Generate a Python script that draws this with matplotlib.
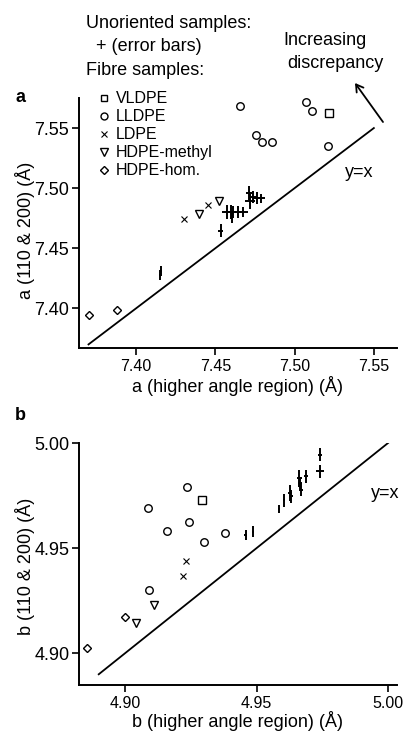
import matplotlib
matplotlib.use("Agg")
import matplotlib.pyplot as plt

plt.rcParams['font.family'] = ['Liberation Sans', 'DejaVu Sans']

W, H = 404, 732

# ---------------- Panel a data ----------------
a_unor_x = [7.4152, 7.4160, 7.4534, 7.4572, 7.4597, 7.4613, 7.4645, 7.4677, 7.4602,
            7.4714, 7.4719, 7.4735, 7.4765, 7.4785]
a_unor_y = [7.4275, 7.4310, 7.4647, 7.4800, 7.4800, 7.4800, 7.4800, 7.4800, 7.4752,
            7.4958, 7.4890, 7.4925, 7.4920, 7.4915]
a_unor_xerr = [0.0005, 0.0005, 0.0015, 0.003, 0.002, 0.002, 0.002, 0.003, 0.0005,
               0.002, 0.003, 0.002, 0.003, 0.003]
a_unor_yerr = [0.004, 0.004, 0.0055, 0.006, 0.006, 0.005, 0.005, 0.004, 0.004,
               0.006, 0.006, 0.005, 0.005, 0.004]

a_vldpe_x = [7.5215]
a_vldpe_y = [7.5625]
a_lldpe_x = [7.4656, 7.5072, 7.5112, 7.4755, 7.4793, 7.4859, 7.5209]
a_lldpe_y = [7.5680, 7.5713, 7.5642, 7.5444, 7.5383, 7.5388, 7.5347]
a_ldpe_x = [7.4303, 7.4454]
a_ldpe_y = [7.4742, 7.4861]
a_hdpem_x = [7.4399, 7.4523]
a_hdpem_y = [7.4786, 7.4894]
a_hdpeh_x = [7.3702, 7.3880]
a_hdpeh_y = [7.3944, 7.3988]
a_line = [7.37, 7.55]
a_ticks = [7.40, 7.45, 7.50, 7.55]
a_ticklabels = ["7.40", "7.45", "7.50", "7.55"]

# ---------------- Panel b data ----------------
b_unor_x = [4.9459, 4.9486, 4.9586, 4.9605, 4.9628, 4.9632, 4.9663, 4.9666, 4.9668,
            4.9687, 4.9741, 4.9741]
b_unor_y = [4.9563, 4.9579, 4.9686, 4.9727, 4.9762, 4.9746, 4.9833, 4.9810, 4.9778,
            4.9841, 4.9944, 4.9865]
b_unor_xerr = [0.0005, 0.0005, 0.0005, 0.0005, 0.0008, 0.0008, 0.0008, 0.0008, 0.0008,
               0.0008, 0.0008, 0.0016]
b_unor_yerr = [0.0025, 0.0025, 0.002, 0.003, 0.004, 0.003, 0.004, 0.003, 0.003,
               0.003, 0.003, 0.003]

b_vldpe_x = [4.9294]
b_vldpe_y = [4.9730]
b_lldpe_x = [4.9235, 4.9089, 4.9159, 4.9244, 4.9302, 4.9379, 4.9091]
b_lldpe_y = [4.9790, 4.9689, 4.9581, 4.9622, 4.9530, 4.9570, 4.9301]
b_ldpe_x = [4.9232, 4.9222]
b_ldpe_y = [4.9440, 4.9368]
b_hdpem_x = [4.9111, 4.9042]
b_hdpem_y = [4.9230, 4.9143]
b_hdpeh_x = [4.9000, 4.8857]
b_hdpeh_y = [4.9173, 4.9027]
b_line = [4.89, 5.00]
b_ticks = [4.90, 4.95, 5.00]
b_ticklabels = ["4.90", "4.95", "5.00"]

legend_labels = ["VLDPE", "LLDPE", "LDPE", "HDPE-methyl", "HDPE-hom."]
legend_markers = ["s", "o", "x", "v", "D"]

FS = 13
XTFS = 11.5
fig = plt.figure(figsize=(W / 100, H / 100), dpi=100)


def fx(px):
    return px / W


def fy(py):
    return 1 - py / H


def style_ax(ax):
    for s in ["top", "right"]:
        ax.spines[s].set_visible(False)
    for s in ["left", "bottom"]:
        ax.spines[s].set_linewidth(1.4)
    ax.tick_params(direction="out", length=5, width=1.2, labelsize=FS, pad=2)
    ax.tick_params(axis="x", labelsize=XTFS, pad=3)


mk = dict(linestyle="none", markerfacecolor="none", markeredgecolor="black",
          markeredgewidth=1.0, clip_on=False)


def draw_panel(ax, ux, uy, uxe, uye, groups, line):
    ax.plot(line, line, color="black", lw=1.3)
    ax.errorbar(ux, uy, xerr=uxe, yerr=uye, fmt="none", ecolor="black",
                elinewidth=1.4, capsize=0)
    for (gx, gy), m in zip(groups, legend_markers):
        size = {"s": 5.2, "o": 5.4, "x": 4.6, "v": 5.6, "D": 4.2}[m]
        ew = 0.8 if m == "x" else 1.0
        kw = dict(mk)
        kw["markeredgewidth"] = ew
        ax.plot(gx, gy, marker=m, markersize=size, **kw)


# Panel a
axa = fig.add_axes([fx(79), fy(348), fx(397) - fx(79), fy(98) - fy(348)])
style_ax(axa)
draw_panel(axa, a_unor_x, a_unor_y, a_unor_xerr, a_unor_yerr,
           [(a_vldpe_x, a_vldpe_y), (a_lldpe_x, a_lldpe_y), (a_ldpe_x, a_ldpe_y),
            (a_hdpem_x, a_hdpem_y), (a_hdpeh_x, a_hdpeh_y)], a_line)
axa.set_xlim(7.364, 7.5646)
axa.set_ylim(7.367, 7.575)
axa.set_xticks(a_ticks)
axa.set_xticklabels(a_ticklabels)
axa.set_yticks(a_ticks)
axa.set_yticklabels(a_ticklabels)

# Panel b
axb = fig.add_axes([fx(79), fy(685), fx(397) - fx(79), fy(443) - fy(685)])
style_ax(axb)
draw_panel(axb, b_unor_x, b_unor_y, b_unor_xerr, b_unor_yerr,
           [(b_vldpe_x, b_vldpe_y), (b_lldpe_x, b_lldpe_y), (b_ldpe_x, b_ldpe_y),
            (b_hdpem_x, b_hdpem_y), (b_hdpeh_x, b_hdpeh_y)], b_line)
axb.set_xlim(4.8825, 5.0034)
axb.set_ylim(4.8849, 5.00)
axb.set_xticks(b_ticks)
axb.set_xticklabels(b_ticklabels)
axb.set_yticks(b_ticks)
axb.set_yticklabels(b_ticklabels)

# Axis labels
fig.text(fx(238), fy(392), "a (higher angle region) (Å)", fontsize=FS, ha="center", va="baseline")
fig.text(fx(238), fy(727), "b (higher angle region) (Å)", fontsize=FS, ha="center", va="baseline")
fig.text(fx(25), fy(230), "a (110 & 200) (Å)", fontsize=FS, ha="center", va="center", rotation=90)
fig.text(fx(25), fy(566), "b (110 & 200) (Å)", fontsize=FS, ha="center", va="center", rotation=90)

# Panel letters
fig.text(fx(15), fy(102), "a", fontsize=FS, fontweight="bold", ha="left", va="baseline")
fig.text(fx(15), fy(420), "b", fontsize=FS, fontweight="bold", ha="left", va="baseline")

# y=x labels
fig.text(fx(345), fy(177), "y=x", fontsize=FS, ha="left", va="baseline")
fig.text(fx(371), fy(498), "y=x", fontsize=FS, ha="left", va="baseline")

# Legend / header texts
fig.text(fx(86), fy(28), "Unoriented samples:", fontsize=FS, ha="left", va="baseline")
fig.text(fx(96), fy(51), "+ (error bars)", fontsize=FS, ha="left", va="baseline")
fig.text(fx(86), fy(75), "Fibre samples:", fontsize=FS, ha="left", va="baseline")
fig.text(fx(283), fy(45), "Increasing", fontsize=FS, ha="left", va="baseline")
fig.text(fx(287), fy(67.7), "discrepancy", fontsize=FS, ha="left", va="baseline")

for i, (lab, m) in enumerate(zip(legend_labels, legend_markers)):
    base = 102.7 + 18 * i
    fig.text(fx(116), fy(base), lab, fontsize=11.5, ha="left", va="baseline")
    size = {"s": 5.0, "o": 5.0, "x": 4.4, "v": 5.2, "D": 4.0}[m]
    ew = 0.8 if m == "x" else 1.0
    fig.add_artist(plt.Line2D([fx(103.5)], [fy(base - 5)], marker=m, markersize=size,
                              transform=fig.transFigure, linestyle="none",
                              markerfacecolor="none", markeredgecolor="black",
                              markeredgewidth=ew))

# Arrow
axa.annotate("", xy=(fx(355), fy(83)), xytext=(fx(383), fy(122)),
             xycoords="figure fraction", textcoords="figure fraction",
             arrowprops=dict(arrowstyle="->,head_length=0.5,head_width=0.3", lw=1.3,
                             color="black", shrinkA=0, shrinkB=0))

fig.savefig("out.png", dpi=100)
